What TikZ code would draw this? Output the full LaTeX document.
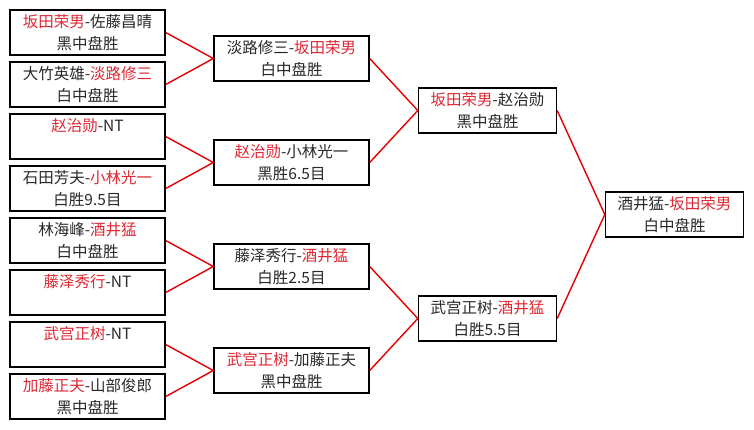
\documentclass[tikz,border=0pt]{standalone}
\usepackage{fontspec}
\setmainfont{Noto Sans CJK SC}
\definecolor{winred}{RGB}{222,40,52}
\definecolor{linkred}{RGB}{228,0,0}
\definecolor{inkgray}{RGB}{40,40,40}
\newcommand{\winner}[1]{\textcolor{winred}{#1}}
\newcommand{\gamerec}[2]{\rule{0pt}{17.5pt}#1\\\rule[-5pt]{0pt}{5pt}#2}

\begin{document}
\begin{tikzpicture}[x=1pt,y=-1pt,
    every node/.style={font=\fontsize{15.5}{22}\selectfont, text=inkgray},
    game/.style={draw=black, line width=1.4pt, inner sep=0pt, align=center,
      minimum width=155, minimum height=45},
    late/.style={game, minimum width=138},
    link/.style={draw=linkred, line width=1.4pt}]

  \useasboundingbox (0,0) rectangle (754,429);

  % ==================================================
  % First round (eight games)
  % ==================================================
  \node[game] (r1a) at (87.5,32.5)  {\gamerec{\winner{坂田荣男}-佐藤昌晴}{黑中盘胜}};
  \node[game] (r1b) at (87.5,84.5)  {\gamerec{大竹英雄-\winner{淡路修三}}{白中盘胜}};
  \node[game] (r1c) at (87.5,136.5) {\gamerec{\winner{赵治勋}-NT}{}};
  \node[game] (r1d) at (87.5,188.5) {\gamerec{石田芳夫-\winner{小林光一}}{白胜9.5目}};
  \node[game] (r1e) at (87.5,240.5) {\gamerec{林海峰-\winner{酒井猛}}{白中盘胜}};
  \node[game] (r1f) at (87.5,292.5) {\gamerec{\winner{藤泽秀行}-NT}{}};
  \node[game] (r1g) at (87.5,344.5) {\gamerec{\winner{武宫正树}-NT}{}};
  \node[game] (r1h) at (87.5,396.5) {\gamerec{\winner{加藤正夫}-山部俊郎}{黑中盘胜}};

  % ==================================================
  % Second round (four games)
  % ==================================================
  \node[game] (r2a) at (291.5,58.5)  {\gamerec{淡路修三-\winner{坂田荣男}}{白中盘胜}};
  \node[game] (r2b) at (291.5,162.5) {\gamerec{\winner{赵治勋}-小林光一}{黑胜6.5目}};
  \node[game] (r2c) at (291.5,266.5) {\gamerec{藤泽秀行-\winner{酒井猛}}{白胜2.5目}};
  \node[game] (r2d) at (291.5,370.5) {\gamerec{\winner{武宫正树}-加藤正夫}{黑中盘胜}};

  % ==================================================
  % Semi-finals and final
  % ==================================================
  \node[late] (r3a) at (487.5,110.5) {\gamerec{\winner{坂田荣男}-赵治勋}{黑中盘胜}};
  \node[late] (r3b) at (487.5,318.5) {\gamerec{武宫正树-\winner{酒井猛}}{白胜5.5目}};
  \node[late] (fin) at (674.5,214.5) {\gamerec{酒井猛-\winner{坂田荣男}}{白中盘胜}};

  % -- Connectors
  \draw[link] (r1a.east) -- (r2a.west) -- (r1b.east);
  \draw[link] (r1c.east) -- (r2b.west) -- (r1d.east);
  \draw[link] (r1e.east) -- (r2c.west) -- (r1f.east);
  \draw[link] (r1g.east) -- (r2d.west) -- (r1h.east);
  \draw[link] (r2a.east) -- (r3a.west) -- (r2b.east);
  \draw[link] (r2c.east) -- (r3b.west) -- (r2d.east);
  \draw[link] (r3a.east) -- (fin.west) -- (r3b.east);

\end{tikzpicture}
\end{document}
